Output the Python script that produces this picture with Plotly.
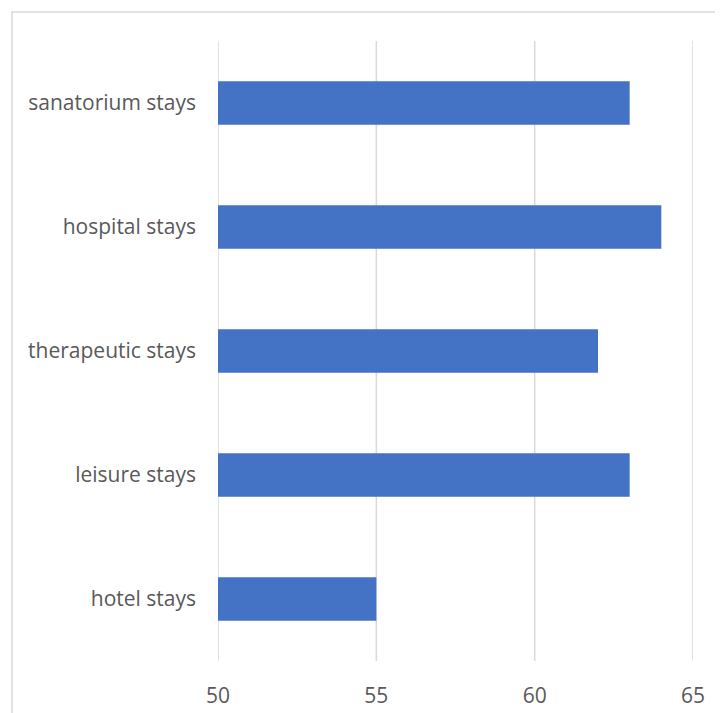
import plotly.graph_objects as go

categories = ["hotel stays", "leisure stays", "therapeutic stays", "hospital stays", "sanatorium stays"]
values = [55, 63, 62, 64, 63]
x_ticks = [50, 55, 60, 65]

# page body has an 8px margin, so the figure is drawn 8px smaller
W, H = 715, 705
L, R, T, B = 210, 30, 33, 52
pw, ph = W - L - R, H - T - B

fig = go.Figure(go.Bar(
    x=values, y=categories, orientation="h",
    marker=dict(color="#4472C4", line=dict(width=0)),
))

grid = [dict(type="line", xref="x", yref="paper", x0=v, x1=v, y0=0, y1=1,
             line=dict(color="#d9d9d9", width=1.5), layer="below") for v in x_ticks]

border = dict(type="rect", xref="paper", yref="paper",
              x0=(4 - L) / pw, x1=1.2, y0=-0.2, y1=1 + (T - 4) / ph,
              line=dict(color="#d9d9d9", width=1.5), fillcolor="rgba(0,0,0,0)",
              layer="below")

fig.update_layout(
    width=W, height=H,
    margin=dict(l=L, r=R, t=T, b=B, pad=0, autoexpand=False),
    paper_bgcolor="white", plot_bgcolor="white",
    bargap=0.65,
    showlegend=False,
    font=dict(family="Open Sans, Lato, sans-serif", size=21, color="#595959"),
    xaxis=dict(range=[50, 65], tickvals=x_ticks, showgrid=False,
               zeroline=False, showline=False, ticks="", automargin=False,
               ticklabelstandoff=20, tickfont=dict(size=21)),
    yaxis=dict(showgrid=False, zeroline=False, showline=False, ticks="", automargin=False,
               ticklabelstandoff=21, tickfont=dict(size=21), categoryorder="array",
               categoryarray=categories),
    shapes=grid + [border],
)

fig.write_html("out.html")
